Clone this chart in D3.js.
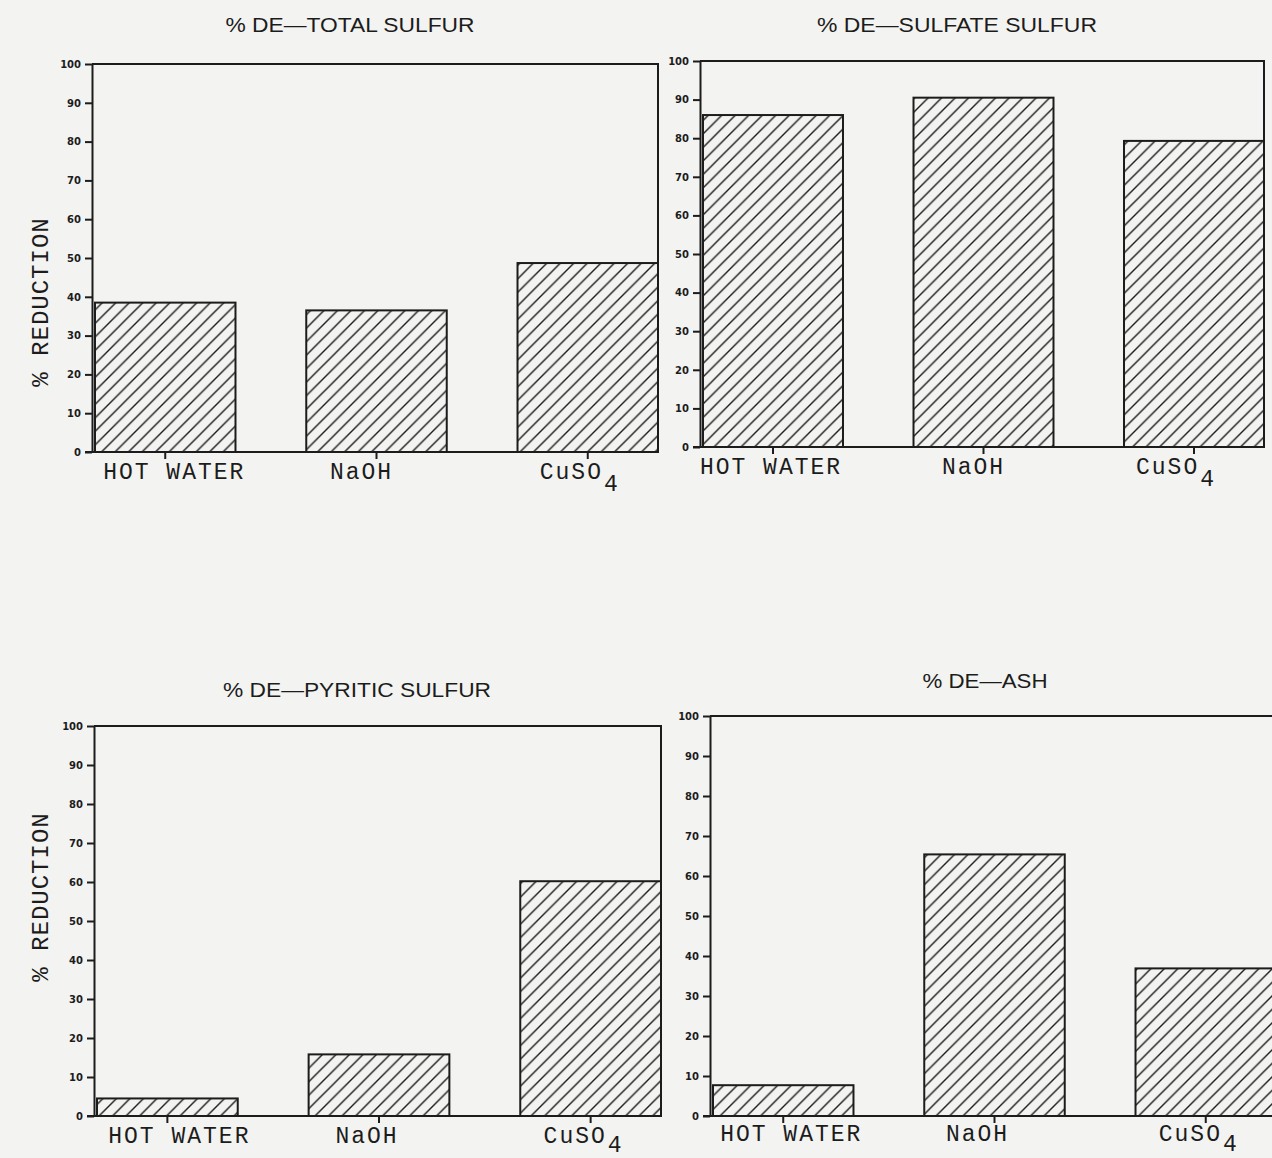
<!DOCTYPE html>
<html><head><meta charset="utf-8">
<script src="https://cdn.jsdelivr.net/npm/d3@7"></script>
<style>
body{margin:0;background:#f3f3f1;}
svg{display:block;}
</style>
</head><body>
<svg id="chart" width="1272" height="1158"></svg>
<script>
// ---- data ----
const categories = ["HOT WATER", "NaOH", "CuSO4"];
const titles = ["% DE\u2014TOTAL SULFUR", "% DE\u2014SULFATE SULFUR", "% DE\u2014PYRITIC SULFUR", "% DE\u2014ASH"];
const totalSulfur = [38.5, 36.5, 48.7];
const sulfateSulfur = [86, 90.5, 79.3];
const pyriticSulfur = [4.5, 15.8, 60.2];
const ash = [7.7, 65.4, 36.9];
const yTicks = [0, 10, 20, 30, 40, 50, 60, 70, 80, 90, 100];
const yLabel = "% REDUCTION";

const seriesList = [totalSulfur, sulfateSulfur, pyriticSulfur, ash];

// ---- layout ----
const panels = [
  {left: 92,  right: 658,  top: 64,  bottom: 452,  tx: 350, ty: 32,  tw: 249, labelDy: 27, subDy: 12, off: [9, -15, -8],  showY: true,  ylx: 48, yly: 302},
  {left: 700, right: 1264, top: 61,  bottom: 447,  tx: 957, ty: 32,  tw: 280, labelDy: 27, subDy: 12, off: [-2, -10, -18], showY: false},
  {left: 94,  right: 661,  top: 726, bottom: 1116, tx: 357, ty: 697, tw: 268, labelDy: 27, subDy: 9,  off: [12, -12, -7], showY: true,  ylx: 48, yly: 897},
  {left: 710, right: 1276, top: 716, bottom: 1116, tx: 985, ty: 688, tw: 125, labelDy: 25, subDy: 10, off: [8, -17, -7],  showY: false}
];

const ink = "#1c1c1c";
const svg = d3.select("#chart");
svg.append("rect").attr("width", 1272).attr("height", 1158).attr("fill", "#f3f3f1");

const defs = svg.append("defs");
const hs = 13.5;
const pat = defs.append("pattern").attr("id", "hatch")
  .attr("patternUnits", "userSpaceOnUse").attr("width", hs).attr("height", hs);
pat.append("path")
  .attr("d", `M0,${hs} L${hs},0 M${-hs/2},${hs/2} L${hs/2},${-hs/2} M${hs/2},${hs*1.5} L${hs*1.5},${hs/2}`)
  .attr("stroke", ink).attr("stroke-width", 1.4).attr("fill", "none");

panels.forEach((p, i) => {
  const data = seriesList[i];
  const g = svg.append("g");

  const y = d3.scaleLinear().domain([0, 100]).range([p.bottom, p.top]);
  const x = d3.scaleBand().domain(categories).range([p.left + 3, p.right]).paddingInner(0.335).paddingOuter(0);

  // bars
  g.selectAll("rect.bar").data(categories).enter().append("rect")
    .attr("class", "bar")
    .attr("x", c => x(c))
    .attr("y", (c, k) => y(data[k]))
    .attr("width", x.bandwidth())
    .attr("height", (c, k) => y(0) - y(data[k]))
    .attr("fill", "url(#hatch)")
    .attr("stroke", ink).attr("stroke-width", 2);

  // frame (top and right)
  g.append("path")
    .attr("d", `M${p.left},${y(100)} L${p.right},${y(100)} L${p.right},${y(0)}`)
    .attr("fill", "none").attr("stroke", ink).attr("stroke-width", 2);

  // y axis
  const ya = g.append("g").attr("transform", `translate(${p.left},0)`)
    .call(d3.axisLeft(y).tickValues(yTicks).tickSize(7).tickPadding(4).tickSizeOuter(0));
  ya.select(".domain").attr("stroke", ink).attr("stroke-width", 2);
  ya.selectAll(".tick line").attr("stroke", ink).attr("stroke-width", 2);
  ya.selectAll(".tick text")
    .attr("fill", ink)
    .style("font-family", "'DejaVu Sans', sans-serif")
    .style("font-weight", "bold")
    .style("font-size", "10px");

  // x axis
  const xa = g.append("g").attr("transform", `translate(0,${p.bottom})`)
    .call(d3.axisBottom(x).tickSize(7).tickSizeOuter(0).tickFormat(""));
  xa.select(".domain").remove();
  xa.selectAll(".tick line").attr("stroke", ink).attr("stroke-width", 2);
  g.append("line")
    .attr("x1", p.left - 7).attr("x2", p.right)
    .attr("y1", y(0)).attr("y2", y(0))
    .attr("stroke", ink).attr("stroke-width", 2);

  // category labels
  categories.forEach((c, k) => {
    const t = g.append("text")
      .attr("x", x(c) + x.bandwidth() / 2 + p.off[k])
      .attr("y", p.bottom + p.labelDy)
      .attr("text-anchor", "middle")
      .attr("fill", ink)
      .style("font-family", "'Courier New', 'Liberation Mono', monospace")
      .style("font-size", "23px")
      .style("letter-spacing", "2px");
    if (c === "CuSO4") {
      t.append("tspan").text("CuSO");
      t.append("tspan").attr("dy", p.subDy).attr("dx", 1).text("4");
    } else {
      t.text(c);
    }
  });

  // title
  g.append("text")
    .attr("x", p.tx).attr("y", p.ty)
    .attr("text-anchor", "middle")
    .attr("fill", ink)
    .attr("textLength", p.tw).attr("lengthAdjust", "spacingAndGlyphs")
    .style("font-family", "'Liberation Sans', Arial, sans-serif")
    .style("font-size", "20px")
    .text(titles[i]);

  // y label
  if (p.showY) {
    g.append("text")
      .attr("transform", `translate(${p.ylx},${p.yly}) rotate(-90)`)
      .attr("text-anchor", "middle")
      .attr("fill", ink)
      .style("font-family", "'Courier New', 'Liberation Mono', monospace")
      .style("font-size", "24px")
      .style("letter-spacing", "1px")
      .text(yLabel);
  }
});
</script>
</body></html>
